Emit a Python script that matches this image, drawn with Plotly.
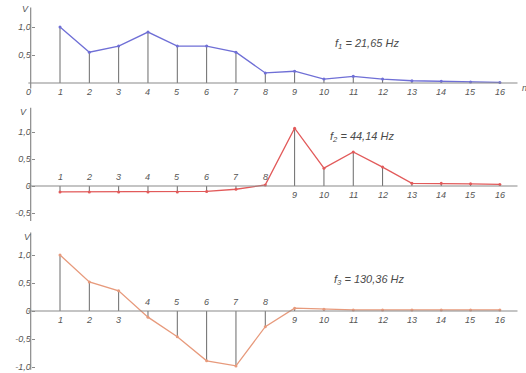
import plotly.graph_objects as go

W, H = 526, 373

harmonics = list(range(1, 17))
v_f1 = [1.0, 0.55, 0.66, 0.91, 0.66, 0.66, 0.55, 0.18, 0.21, 0.07, 0.12, 0.07, 0.04, 0.03, 0.02, 0.01]
v_f2 = [-0.11, -0.11, -0.11, -0.11, -0.11, -0.1, -0.06, 0.02, 1.07, 0.33, 0.63, 0.35, 0.05, 0.05, 0.04, 0.03]
v_f3 = [1.0, 0.52, 0.36, -0.11, -0.46, -0.89, -0.98, -0.28, 0.05, 0.03, 0.02, 0.02, 0.02, 0.02, 0.02, 0.02]

titles = ["f<sub>1</sub> = 21,65 Hz", "f<sub>2</sub> = 44,14 Hz", "f<sub>3</sub> = 130,36 Hz"]
colors = ["#6f6fd6", "#e25a5a", "#e79a7c"]
yticks = [[0.5, 1.0], [-0.5, 0, 0.5, 1.0], [-1.0, -0.5, 0, 0.5, 1.0]]
yticktext = [["0,5", "1,0"], ["-0,5", "0", "0,5", "1,0"], ["-1,0", "-0,5", "0", "0,5", "1,0"]]
series = [v_f1, v_f2, v_f3]

# panel pixel layout: (top px, bottom px, zero px, px per unit)
panels = [(0, 100, 83, 56), (100, 225, 186, 54), (225, 373, 311, 56)]
xrange_ = [-1.046, 16.89]
axis_col = "#8a8a8a"
lab_font = dict(family="Liberation Sans, Arial", size=9, color="#555555", style="italic")

fig = go.Figure()
shapes, annotations = [], []
layout = dict(width=W, height=H, margin=dict(l=0, r=0, t=0, b=0),
              paper_bgcolor="white", plot_bgcolor="white", showlegend=False)

def px_to_paper_y(py):
    return 1 - py / H

def px_to_paper_x(px):
    return px / W

x0_paper = (0 - xrange_[0]) / (xrange_[1] - xrange_[0])

for i, (vals, col) in enumerate(zip(series, colors)):
    top, bot, zero, ppu = panels[i]
    k = "" if i == 0 else str(i + 1)
    xa, ya = "x" + k, "y" + k
    yr = [(zero - bot) / ppu, (zero - top) / ppu]
    dom = [px_to_paper_y(bot), px_to_paper_y(top)]
    layout["xaxis" + k] = dict(range=xrange_, visible=False, domain=[0, 1], anchor=ya)
    layout["yaxis" + k] = dict(range=yr, domain=dom, anchor="free", position=x0_paper,
                               showgrid=False, zeroline=False, showline=False,
                               tickvals=yticks[i], ticktext=yticktext[i],
                               ticks="inside", ticklen=3, tickcolor=axis_col,
                               tickfont=lab_font)
    # stems
    sx, sy = [], []
    for n, v in zip(harmonics, vals):
        sx += [n, n, None]
        sy += [0, v, None]
    fig.add_trace(go.Scatter(x=sx, y=sy, mode="lines", xaxis=xa, yaxis=ya,
                             line=dict(color="#6a6a6a", width=1), hoverinfo="skip"))
    fig.add_trace(go.Scatter(x=harmonics, y=vals, mode="lines+markers", xaxis=xa, yaxis=ya,
                             line=dict(color=col, width=1.3),
                             marker=dict(size=3, color=col)))
    # axes lines
    ybot = [-0.1, -0.65, -1.05][i]
    ytop = [1.35, 1.45, 1.4][i]
    shapes.append(dict(type="line", xref=xa, yref=ya, x0=0, x1=0, y0=ybot, y1=ytop,
                       line=dict(color=axis_col, width=1.2)))
    shapes.append(dict(type="line", xref=xa, yref=ya, x0=-0.08, x1=16.6, y0=0, y1=0,
                       line=dict(color=axis_col, width=1.2)))
    # harmonic labels
    for n, v in zip(harmonics, vals):
        above = v < 0 or (i == 1 and n == 8)
        annotations.append(dict(x=n, y=0, xref=xa, yref=ya, text=str(n), showarrow=False,
                                xanchor="center", yanchor="middle",
                                yshift=9 if above else -9, font=lab_font))
    # V label
    vpos = [(25, 9), (23, 112), (27, 237)][i]
    annotations.append(dict(x=px_to_paper_x(vpos[0]), y=px_to_paper_y(vpos[1]), xref="paper",
                            yref="paper", text="V", showarrow=False, xanchor="center",
                            yanchor="middle", font=lab_font))
    # title
    tpos = [(367, 44), (362, 137), (369, 280)][i]
    annotations.append(dict(x=px_to_paper_x(tpos[0]), y=px_to_paper_y(tpos[1]), xref="paper",
                            yref="paper", text=titles[i], showarrow=False,
                            xanchor="center", yanchor="middle",
                            font=dict(family="Liberation Sans, Arial", size=11,
                                      color="#4a4a4a", style="italic")))

annotations.append(dict(x=0, y=0, xref="x", yref="y", text="0", showarrow=False,
                        xanchor="center", yanchor="middle",
                        yshift=-9, xshift=-2, font=lab_font))
annotations.append(dict(x=16.75, y=0, xref="x", yref="y", text="n", showarrow=False,
                        xanchor="center", yanchor="middle",
                        yshift=-5, xshift=3, font=lab_font))

layout["shapes"] = shapes
layout["annotations"] = annotations
fig.update_layout(**layout)
fig.write_html("out.html", config={"displayModeBar": False},
               post_script="document.body.style.margin='0';document.body.style.overflow='hidden';")
